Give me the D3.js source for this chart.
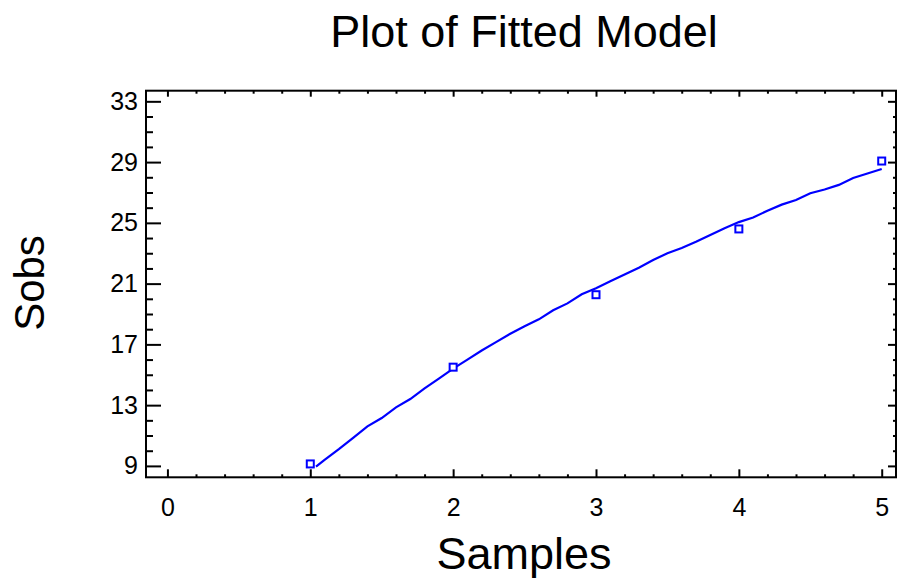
<!DOCTYPE html>
<html>
<head>
<meta charset="utf-8">
<script src="https://cdn.jsdelivr.net/npm/d3@7"></script>
<style>
  html, body { margin: 0; padding: 0; background: #fff; }
  svg { display: block; }
  text { font-family: "Liberation Sans", Arial, sans-serif; fill: #000; }
</style>
</head>
<body>
<svg id="chart" width="897" height="582"></svg>
<script>
// Observed points
const sampleX = [1, 2, 3, 4, 5];
const sobsY = [9.13, 15.5, 20.27, 24.6, 29.07];

// Fitted model curve
const fitX = [1.04, 1.1, 1.2, 1.3, 1.4, 1.5, 1.6, 1.7, 1.8, 1.9, 2.0, 2.1, 2.2, 2.3, 2.4, 2.5, 2.6, 2.7, 2.8, 2.9, 3.0,
              3.1, 3.2, 3.3, 3.4, 3.5, 3.6, 3.7, 3.8, 3.9, 4.0, 4.1, 4.2, 4.3, 4.4, 4.5, 4.6, 4.7, 4.8, 4.9, 5.0];
const fitY = [8.96, 9.4, 10.1, 10.85, 11.6, 12.15, 12.85, 13.4, 14.1, 14.75, 15.4, 16.0, 16.6, 17.15, 17.7, 18.2, 18.65, 19.25, 19.7, 20.3, 20.7,
              21.15, 21.6, 22.05, 22.55, 23.0, 23.35, 23.75, 24.2, 24.65, 25.05, 25.35, 25.8, 26.2, 26.5, 26.95, 27.2, 27.5, 27.95, 28.25, 28.55];

const xTicks = [0, 1, 2, 3, 4, 5];
const yTicks = [9, 13, 17, 21, 25, 29, 33];

const title = "Plot of Fitted Model";
const xLabel = "Samples";
const yLabel = "Sobs";

const svg = d3.select("#chart");
const L = 146, R = 896, T = 90.7, B = 477.3;

const x = d3.scaleLinear().domain([-0.15, 5.1]).range([L, R]);
const y = d3.scaleLinear().domain([8.25, 33.7]).range([B, T]);

const xMinor = d3.range(0, 5.0001, 0.2).map(v => +v.toFixed(2)).filter(v => !xTicks.includes(v));
const yMinor = d3.range(9, 33.0001, 1).filter(v => !yTicks.includes(v));

const blue = "#0000ff";
const FONT = '"Liberation Sans", Arial, sans-serif';

function axisGroup(axis, tr) {
  const g = svg.append("g").attr("transform", tr).call(axis);
  g.select(".domain").remove();
  g.selectAll("line").attr("stroke", "#000").attr("stroke-width", 2);
  return g;
}
// bottom
axisGroup(d3.axisTop(x).tickValues(xTicks).tickSize(8).tickFormat(""), `translate(0,${B})`);
axisGroup(d3.axisTop(x).tickValues(xMinor).tickSize(3).tickFormat(""), `translate(0,${B})`);
// top
axisGroup(d3.axisBottom(x).tickValues(xTicks).tickSize(6).tickFormat(""), `translate(0,${T})`);
axisGroup(d3.axisBottom(x).tickValues(xMinor).tickSize(3).tickFormat(""), `translate(0,${T})`);
// left
axisGroup(d3.axisRight(y).tickValues(yTicks).tickSize(15).tickFormat(""), `translate(${L},0)`);
axisGroup(d3.axisRight(y).tickValues(yMinor).tickSize(7).tickFormat(""), `translate(${L},0)`);
// right
axisGroup(d3.axisLeft(y).tickValues(yTicks).tickSize(8).tickFormat(""), `translate(${R},0)`);
axisGroup(d3.axisLeft(y).tickValues(yMinor).tickSize(3).tickFormat(""), `translate(${R},0)`);

// frame
svg.append("rect").attr("x", L).attr("y", T).attr("width", R - L).attr("height", B - T)
  .attr("fill", "none").attr("stroke", "#000").attr("stroke-width", 2);

// tick labels
const xl = svg.append("g").attr("transform", `translate(0,${B})`)
  .call(d3.axisBottom(x).tickValues(xTicks).tickSize(0).tickPadding(21).tickFormat(d3.format("d")));
xl.select(".domain").remove();
xl.attr("font-size", null).attr("font-family", null);
xl.selectAll("text").style("font-size", "25px").style("font-family", FONT).attr("fill", "#000");

const yl = svg.append("g").attr("transform", `translate(${L},0)`)
  .call(d3.axisLeft(y).tickValues(yTicks).tickSize(0).tickPadding(8).tickFormat(d3.format("d")));
yl.select(".domain").remove();
yl.attr("font-size", null).attr("font-family", null);
yl.selectAll("text").style("font-size", "25px").style("font-family", FONT).attr("fill", "#000");

// fitted line
const line = d3.line().x(d => x(d[0])).y(d => y(d[1]));
svg.append("path").datum(fitX.map((v, i) => [v, fitY[i]]))
  .attr("d", line).attr("fill", "none").attr("stroke", blue).attr("stroke-width", 2.2);

// points
svg.append("g").selectAll("rect").data(sampleX.map((v, i) => [v, sobsY[i]])).join("rect")
  .attr("x", d => x(d[0]) - 3.5).attr("y", d => y(d[1]) - 3.5)
  .attr("width", 7).attr("height", 7)
  .attr("fill", "#fff").attr("stroke", blue).attr("stroke-width", 2);

// titles
svg.append("text").attr("x", 524).attr("y", 47).attr("text-anchor", "middle")
  .style("font-size", "45px").text(title);
svg.append("text").attr("x", 524).attr("y", 569).attr("text-anchor", "middle")
  .style("font-size", "45px").text(xLabel);
svg.append("text").attr("transform", "translate(44,283) rotate(-90)").attr("text-anchor", "middle")
  .style("font-size", "42px").text(yLabel);
</script>
</body>
</html>
